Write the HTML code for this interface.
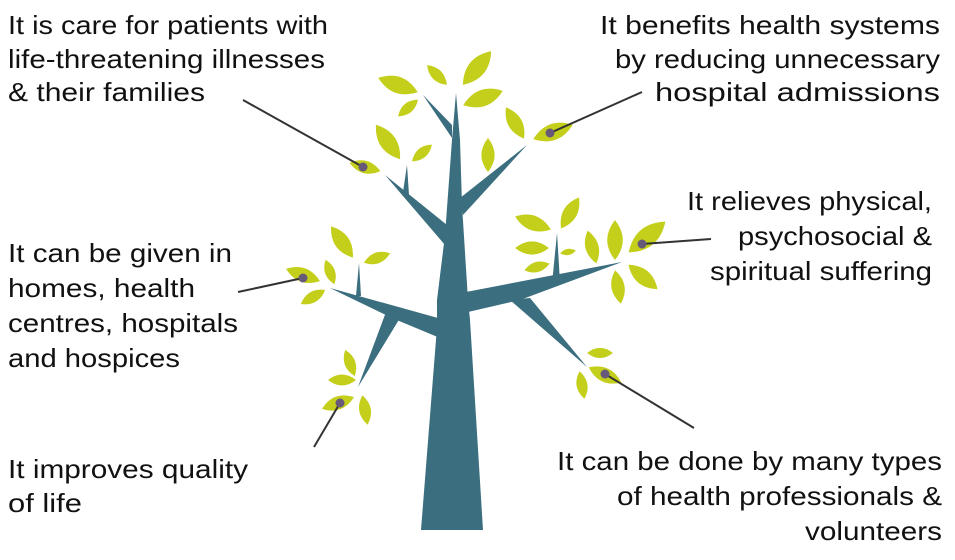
<!DOCTYPE html>
<html><head><meta charset="utf-8"><style>
html,body{margin:0;padding:0;background:#fff;width:955px;height:560px;overflow:hidden}
text{font-family:"Liberation Sans",sans-serif;font-size:26px;fill:#111}
</style></head><body>
<svg width="955" height="560" viewBox="0 0 955 560" xmlns="http://www.w3.org/2000/svg">
<defs>
<path id="lf" d="M-1,0 Q0,-0.78 1,0 Q0,0.78 -1,0Z"/>
</defs>
<g fill="#3b6e7e">
<polygon points="421,530 483,530 470,320 468,300 462,205 460,140 456,93 452,140 445,235 437,300 437,327"/>
<polygon points="423,95 452,125 452,138"/>
<polygon points="385,175 447,225 445,245"/>
<polygon points="407,165 409,195 403,192"/>
<polygon points="527,145 460,198 463,215"/>
<polygon points="622,262 466,292 468,312 520,300"/>
<polygon points="557,233 560,282 552,284"/>
<polygon points="587,367 510,300 530,298"/>
<polygon points="330,288 438,318 440,338 392,318"/>
<polygon points="359,263 361,296 356,296"/>
<polygon points="358,387 386,312 400,318"/>
</g>
<g fill="#c3cf1a">
<use href="#lf" transform="translate(437,75) rotate(45) scale(14)"/>
<use href="#lf" transform="translate(477,68) rotate(-50) scale(22)"/>
<use href="#lf" transform="translate(398,85) rotate(20) scale(21)"/>
<use href="#lf" transform="translate(408,108) rotate(-40) scale(13)"/>
<use href="#lf" transform="translate(483,98) rotate(-20) scale(21)"/>
<use href="#lf" transform="translate(515,123) rotate(60) scale(18)"/>
<use href="#lf" transform="translate(553,132) rotate(-20) scale(21)"/>
<use href="#lf" transform="translate(488,155) rotate(90) scale(17)"/>
<use href="#lf" transform="translate(388,142) rotate(55) scale(21)"/>
<use href="#lf" transform="translate(422,153) rotate(-40) scale(13)"/>
<use href="#lf" transform="translate(365,167) rotate(15) scale(16)"/>
<use href="#lf" transform="translate(533,223) rotate(20) scale(19)"/>
<use href="#lf" transform="translate(570,213) rotate(-60) scale(18)"/>
<use href="#lf" transform="translate(532,248) rotate(0) scale(17)"/>
<use href="#lf" transform="translate(537,267) rotate(-15) scale(13)"/>
<use href="#lf" transform="translate(568,252) rotate(-10) scale(8)"/>
<use href="#lf" transform="translate(592,247) rotate(75) scale(17)"/>
<use href="#lf" transform="translate(615,240) rotate(90) scale(20)"/>
<use href="#lf" transform="translate(647,237) rotate(-40) scale(24)"/>
<use href="#lf" transform="translate(643,277) rotate(40) scale(19)"/>
<use href="#lf" transform="translate(618,287) rotate(80) scale(17)"/>
<use href="#lf" transform="translate(342,242) rotate(55) scale(19)"/>
<use href="#lf" transform="translate(377,258) rotate(-20) scale(14)"/>
<use href="#lf" transform="translate(303,275) rotate(20) scale(18)"/>
<use href="#lf" transform="translate(330,272) rotate(70) scale(13)"/>
<use href="#lf" transform="translate(313,297) rotate(-30) scale(14)"/>
<use href="#lf" transform="translate(350,363) rotate(70) scale(14)"/>
<use href="#lf" transform="translate(342,380) rotate(0) scale(14)"/>
<use href="#lf" transform="translate(338,403) rotate(-20) scale(17)"/>
<use href="#lf" transform="translate(365,410) rotate(80) scale(15)"/>
<use href="#lf" transform="translate(600,353) rotate(0) scale(13)"/>
<use href="#lf" transform="translate(605,375) rotate(25) scale(18)"/>
<use href="#lf" transform="translate(582,385) rotate(80) scale(14)"/>
</g>
<g stroke="#333" stroke-width="2">
<line x1="243" y1="100" x2="363" y2="167"/>
<line x1="642" y1="92" x2="550" y2="133"/>
<line x1="711" y1="239" x2="642" y2="244"/>
<line x1="238" y1="292" x2="303" y2="278"/>
<line x1="314" y1="447" x2="340" y2="403"/>
<line x1="605" y1="374" x2="694" y2="428"/>
</g>
<g fill="#665a78">
<circle cx="363" cy="167" r="4.5"/><circle cx="550" cy="133" r="4.5"/><circle cx="642" cy="244" r="4.5"/>
<circle cx="303" cy="278" r="4.5"/><circle cx="340" cy="403" r="4.5"/><circle cx="605" cy="374" r="4.5"/>
</g>
<g>
<text x="8" y="34" textLength="320" lengthAdjust="spacingAndGlyphs">It is care for patients with</text>
<text x="8" y="68" textLength="317" lengthAdjust="spacingAndGlyphs">life-threatening illnesses</text>
<text x="8" y="101" textLength="197" lengthAdjust="spacingAndGlyphs">&amp; their families</text>
<text x="600" y="34" textLength="340" lengthAdjust="spacingAndGlyphs">It benefits health systems</text>
<text x="615" y="68" textLength="325" lengthAdjust="spacingAndGlyphs">by reducing unnecessary</text>
<text x="655" y="101" textLength="285" lengthAdjust="spacingAndGlyphs">hospital admissions</text>
<text x="687" y="210" textLength="245" lengthAdjust="spacingAndGlyphs">It relieves physical,</text>
<text x="738" y="245" textLength="194" lengthAdjust="spacingAndGlyphs">psychosocial &amp;</text>
<text x="710" y="280" textLength="222" lengthAdjust="spacingAndGlyphs">spiritual suffering</text>
<text x="8" y="262" textLength="224" lengthAdjust="spacingAndGlyphs">It can be given in</text>
<text x="8" y="297" textLength="187" lengthAdjust="spacingAndGlyphs">homes, health</text>
<text x="8" y="332" textLength="230" lengthAdjust="spacingAndGlyphs">centres, hospitals</text>
<text x="8" y="367" textLength="172" lengthAdjust="spacingAndGlyphs">and hospices</text>
<text x="8" y="478" textLength="240" lengthAdjust="spacingAndGlyphs">It improves quality</text>
<text x="8" y="512" textLength="74" lengthAdjust="spacingAndGlyphs">of life</text>
<text x="557" y="470" textLength="385" lengthAdjust="spacingAndGlyphs">It can be done by many types</text>
<text x="617" y="505" textLength="325" lengthAdjust="spacingAndGlyphs">of health professionals &amp;</text>
<text x="805" y="540" textLength="137" lengthAdjust="spacingAndGlyphs">volunteers</text>
</g>
</svg>
</body></html>
